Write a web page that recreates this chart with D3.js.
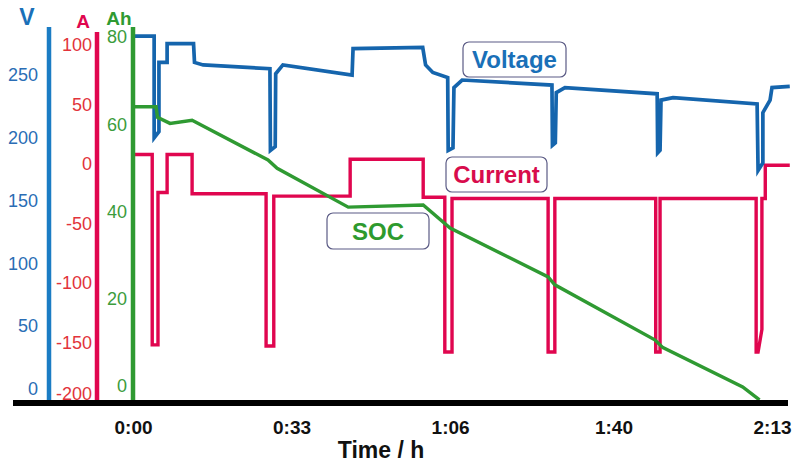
<!DOCTYPE html>
<html lang="en">
<head>
<meta charset="UTF-8">
<title>Voltage / Current / SOC</title>
<style>
  body { margin: 0; padding: 0; background: #fff; }
  svg { display: block; font-family: "Liberation Sans", Arial, Helvetica, sans-serif; }
</style>
</head>
<body>
<script src="https://cdn.jsdelivr.net/npm/d3@7"></script>
<script>
// time in minutes
const timeTicks = [0, 33, 66, 100, 133];
const vTicks = [0, 50, 100, 150, 200, 250];
const aTicks = [-200, -150, -100, -50, 0, 50, 100];
const ahTicks = [0, 20, 40, 60, 80];

const voltage = [
  [0, 281], [4.4, 281], [4.4, 200], [5.4, 205], [5.4, 260], [7.1, 260], [7.1, 275],
  [12.6, 275], [12.8, 260], [14.6, 258], [28.5, 255], [28.6, 190], [29.6, 193],
  [29.7, 251], [31.2, 258], [45.6, 250], [45.8, 271], [60.3, 272], [60.9, 258],
  [62.4, 252], [65.5, 248], [65.6, 190], [66.6, 192], [66.8, 240], [68.5, 246],
  [87.2, 242], [87.3, 194], [87.9, 196], [88.1, 236], [89.9, 240], [109.1, 235],
  [109.2, 188], [109.7, 190], [109.9, 230], [112.4, 232], [129.9, 227], [130.1, 174],
  [131.1, 180], [131.1, 220], [132.6, 230], [133.0, 240], [136.7, 241]
];

const current = [
  [0, 8], [4.0, 8], [4.0, -152], [5.2, -152], [5.2, -24], [7.1, -24], [7.1, 8],
  [12.3, 8], [12.3, -25], [27.7, -25], [27.7, -153], [29.3, -153], [29.3, -27],
  [45.2, -27], [45.2, 4], [60.4, 4], [60.4, -28], [64.9, -28], [64.9, -158],
  [66.4, -158], [66.4, -29], [86.4, -29], [86.4, -158], [87.8, -158], [87.8, -29],
  [108.8, -29], [108.8, -158], [109.7, -158], [109.7, -29], [129.7, -29],
  [129.7, -158], [130.1, -158], [130.9, -139], [130.9, -29], [131.6, -29],
  [131.6, -1], [136.7, -1]
];

const soc = [
  [0, 64], [4.8, 64], [5.1, 61.6], [7.7, 60.2], [12.3, 60.9], [28.1, 51.8],
  [30.0, 49.9], [44.8, 41.0], [60.4, 41.5], [66.0, 36.2], [86.4, 25.0], [87.8, 23.2],
  [108.6, 10.6], [110.3, 8.8], [126.9, -0.2], [130.4, -3.2]
];

const labels = [
  { text: 'Voltage', color: '#1a70b8', x: 463, y: 42, w: 103, h: 35 },
  { text: 'Current', color: '#d80c4c', x: 446, y: 157, w: 101, h: 35 },
  { text: 'SOC', color: '#2e9a2e', x: 327, y: 213, w: 102, h: 36 }
];

const blue = '#1b7cc4', red = '#e0064f', green = '#2f9a32';

const width = 795, height = 464;
const svg = d3.select('body').append('svg')
  .attr('width', width)
  .attr('height', height);

// scales
const x = d3.scaleLinear().domain([0, 133]).range([133, 772]);
const yV = d3.scaleLinear().domain([0, 250]).range([389, 75]);
const yA = d3.scaleLinear().domain([-200, 100]).range([402, 45]);
const yAh = d3.scaleLinear().domain([0, 80]).range([386, 37]);

// lines
const drawLine = (data, y, color, w) => {
  svg.append('path')
    .datum(data)
    .attr('fill', 'none')
    .attr('stroke', color)
    .attr('stroke-width', w)
    .attr('stroke-linejoin', 'miter')
    .attr('d', d3.line().x(d => x(d[0])).y(d => y(d[1])));
};
drawLine(current, yA, red, 3.4);
drawLine(voltage, yV, '#1565ad', 3.7);
drawLine(soc, yAh, green, 3.4);

// y axes: colored bars + tick labels
const yAxis = (scale, ticks, xPos, pad, color, textColor, top, bottom) => {
  svg.append('line')
    .attr('x1', xPos).attr('x2', xPos)
    .attr('y1', top).attr('y2', bottom)
    .attr('stroke', color)
    .attr('stroke-width', 4.5);
  const g = svg.append('g')
    .attr('transform', `translate(${xPos},0)`)
    .call(d3.axisLeft(scale).tickValues(ticks).tickFormat(d => String(d)).tickSize(0).tickPadding(pad));
  g.select('.domain').remove();
  g.selectAll('text')
    .attr('fill', textColor)
    .attr('font-size', 18)
    .attr('font-family', '"Liberation Sans", Arial, sans-serif');
  // lowest label sits just above the baseline
  g.selectAll('.tick').filter(d => d === ticks[0]).select('text')
    .attr('y', scale(ticks[0]) > 395 ? -8 : 0);
};
yAxis(yV, vTicks, 49, 11, blue, '#2a6db5', 27, 400);
yAxis(yA, aTicks, 97, 5, red, '#e2333b', 32, 405);
yAxis(yAh, ahTicks, 133, 6, green, '#3c9c3c', 27, 400);

// axis unit titles
const units = [
  { t: 'V', x: 27, y: 25, c: '#1a70b8', s: 23 },
  { t: 'A', x: 83, y: 28, c: red, s: 19 },
  { t: 'Ah', x: 119, y: 25, c: green, s: 19 }
];
svg.selectAll('.unit').data(units).enter().append('text')
  .attr('class', 'unit')
  .attr('x', d => d.x).attr('y', d => d.y)
  .attr('text-anchor', 'middle')
  .attr('font-weight', 'bold')
  .attr('font-size', d => d.s)
  .attr('fill', d => d.c)
  .text(d => d.t);

// baseline
svg.append('line')
  .attr('x1', 13).attr('x2', 788)
  .attr('y1', 403).attr('y2', 403)
  .attr('stroke', '#000')
  .attr('stroke-width', 6);

// x axis labels
const fmt = m => `${Math.floor(m / 60)}:${String(m % 60).padStart(2, '0')}`;
const gx = svg.append('g')
  .attr('transform', 'translate(0,403)')
  .call(d3.axisBottom(x).tickValues(timeTicks).tickFormat(fmt).tickSize(0).tickPadding(18));
gx.select('.domain').remove();
gx.selectAll('text')
  .attr('fill', '#111')
  .attr('font-weight', 'bold')
  .attr('font-size', 19)
  .attr('font-family', '"Liberation Sans", Arial, sans-serif');

svg.append('text')
  .attr('x', 381).attr('y', 458)
  .attr('text-anchor', 'middle')
  .attr('font-weight', 'bold')
  .attr('font-size', 23)
  .attr('fill', '#111')
  .text('Time / h');

// series labels in rounded boxes
const lab = svg.selectAll('.lab').data(labels).enter().append('g').attr('class', 'lab');
lab.append('rect')
  .attr('x', d => d.x).attr('y', d => d.y)
  .attr('width', d => d.w).attr('height', d => d.h)
  .attr('rx', 6)
  .attr('fill', '#fff')
  .attr('stroke', '#5b5b85')
  .attr('stroke-width', 1.2);
lab.append('text')
  .attr('x', d => d.x + d.w / 2)
  .attr('y', d => d.y + d.h / 2 + 8.5)
  .attr('text-anchor', 'middle')
  .attr('font-weight', 'bold')
  .attr('font-size', 24)
  .attr('fill', d => d.color)
  .text(d => d.text);
</script>
</body>
</html>
